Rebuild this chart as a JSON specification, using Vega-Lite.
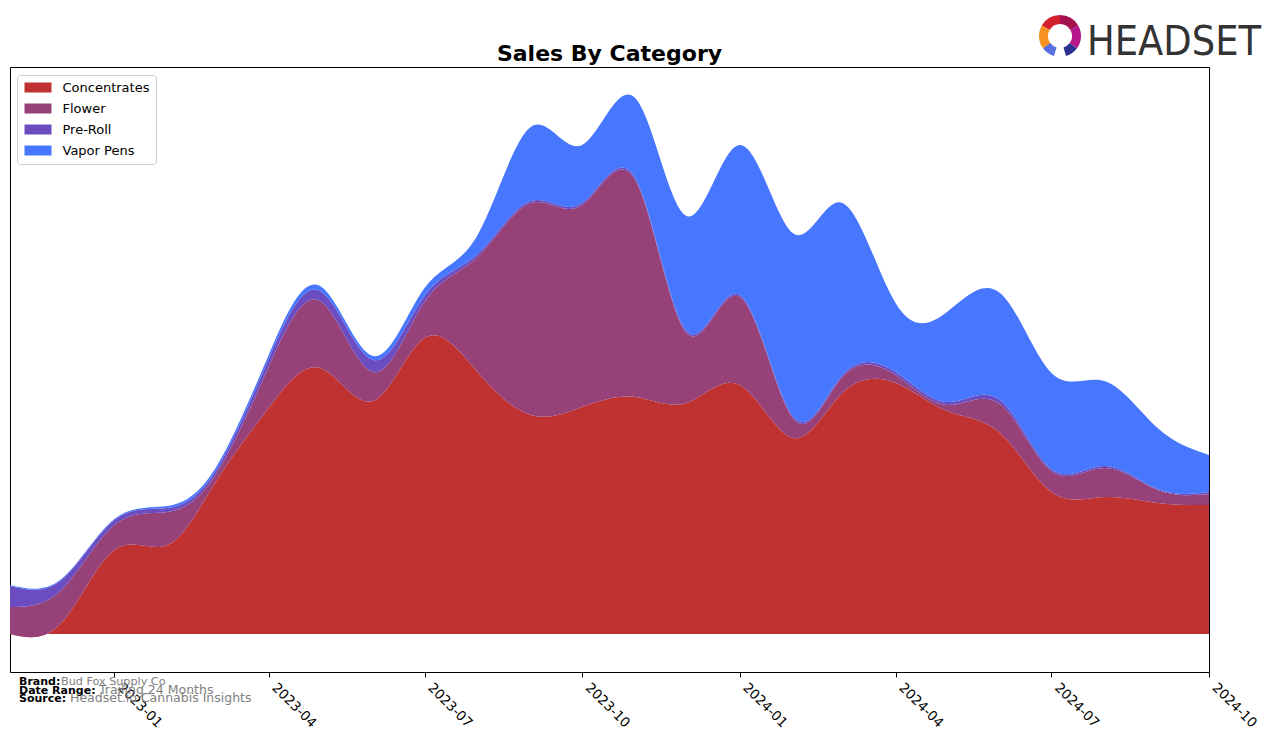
{
  "$schema": "https://vega.github.io/schema/vega-lite/v6.json",
  "autosize": "none",
  "width": 1199,
  "height": 605,
  "padding": {"left": 10, "top": 67, "right": 67, "bottom": 71},
  "background": "white",
  "title": {"text": "Sales By Category", "font": "DejaVu Sans", "fontSize": 22, "fontWeight": "bold", "color": "black", "anchor": "middle", "baseline": "alphabetic", "offset": 7, "dy": 75},
  "config": {
    "view": {"stroke": "black", "strokeWidth": 1},
    "axis": {"grid": false}
  },
  "layer": [
    {
      "data": {"values": [
        {"month": "2022-11-01", "category": "Concentrates", "sales": 0},
        {"month": "2022-11-01", "category": "Flower", "sales": 27},
        {"month": "2022-11-01", "category": "Pre-Roll", "sales": 21},
        {"month": "2022-11-01", "category": "Vapor Pens", "sales": 1},
        {"month": "2022-12-01", "category": "Concentrates", "sales": 11},
        {"month": "2022-12-01", "category": "Flower", "sales": 33},
        {"month": "2022-12-01", "category": "Pre-Roll", "sales": 10},
        {"month": "2022-12-01", "category": "Vapor Pens", "sales": 1},
        {"month": "2023-01-01", "category": "Concentrates", "sales": 84},
        {"month": "2023-01-01", "category": "Flower", "sales": 25},
        {"month": "2023-01-01", "category": "Pre-Roll", "sales": 5},
        {"month": "2023-01-01", "category": "Vapor Pens", "sales": 1},
        {"month": "2023-02-01", "category": "Concentrates", "sales": 89},
        {"month": "2023-02-01", "category": "Flower", "sales": 33},
        {"month": "2023-02-01", "category": "Pre-Roll", "sales": 4},
        {"month": "2023-02-01", "category": "Vapor Pens", "sales": 2},
        {"month": "2023-03-01", "category": "Concentrates", "sales": 152},
        {"month": "2023-03-01", "category": "Flower", "sales": 7},
        {"month": "2023-03-01", "category": "Pre-Roll", "sales": 4},
        {"month": "2023-03-01", "category": "Vapor Pens", "sales": 3},
        {"month": "2023-04-01", "category": "Concentrates", "sales": 226},
        {"month": "2023-04-01", "category": "Flower", "sales": 41},
        {"month": "2023-04-01", "category": "Pre-Roll", "sales": 8},
        {"month": "2023-04-01", "category": "Vapor Pens", "sales": 4},
        {"month": "2023-05-01", "category": "Concentrates", "sales": 266},
        {"month": "2023-05-01", "category": "Flower", "sales": 67},
        {"month": "2023-05-01", "category": "Pre-Roll", "sales": 10},
        {"month": "2023-05-01", "category": "Vapor Pens", "sales": 5},
        {"month": "2023-06-01", "category": "Concentrates", "sales": 233},
        {"month": "2023-06-01", "category": "Flower", "sales": 29},
        {"month": "2023-06-01", "category": "Pre-Roll", "sales": 12},
        {"month": "2023-06-01", "category": "Vapor Pens", "sales": 4},
        {"month": "2023-07-01", "category": "Concentrates", "sales": 296},
        {"month": "2023-07-01", "category": "Flower", "sales": 36},
        {"month": "2023-07-01", "category": "Pre-Roll", "sales": 6},
        {"month": "2023-07-01", "category": "Vapor Pens", "sales": 8},
        {"month": "2023-08-01", "category": "Concentrates", "sales": 262},
        {"month": "2023-08-01", "category": "Flower", "sales": 115},
        {"month": "2023-08-01", "category": "Pre-Roll", "sales": 3},
        {"month": "2023-08-01", "category": "Vapor Pens", "sales": 19},
        {"month": "2023-09-01", "category": "Concentrates", "sales": 219},
        {"month": "2023-09-01", "category": "Flower", "sales": 212},
        {"month": "2023-09-01", "category": "Pre-Roll", "sales": 2},
        {"month": "2023-09-01", "category": "Vapor Pens", "sales": 74},
        {"month": "2023-10-01", "category": "Concentrates", "sales": 227},
        {"month": "2023-10-01", "category": "Flower", "sales": 202},
        {"month": "2023-10-01", "category": "Pre-Roll", "sales": 2},
        {"month": "2023-10-01", "category": "Vapor Pens", "sales": 58},
        {"month": "2023-11-01", "category": "Concentrates", "sales": 237},
        {"month": "2023-11-01", "category": "Flower", "sales": 217},
        {"month": "2023-11-01", "category": "Pre-Roll", "sales": 2},
        {"month": "2023-11-01", "category": "Vapor Pens", "sales": 80},
        {"month": "2023-12-01", "category": "Concentrates", "sales": 231},
        {"month": "2023-12-01", "category": "Flower", "sales": 70},
        {"month": "2023-12-01", "category": "Pre-Roll", "sales": 2},
        {"month": "2023-12-01", "category": "Vapor Pens", "sales": 115},
        {"month": "2024-01-01", "category": "Concentrates", "sales": 249},
        {"month": "2024-01-01", "category": "Flower", "sales": 88},
        {"month": "2024-01-01", "category": "Pre-Roll", "sales": 2},
        {"month": "2024-01-01", "category": "Vapor Pens", "sales": 150},
        {"month": "2024-02-01", "category": "Concentrates", "sales": 196},
        {"month": "2024-02-01", "category": "Flower", "sales": 20},
        {"month": "2024-02-01", "category": "Pre-Roll", "sales": 2},
        {"month": "2024-02-01", "category": "Vapor Pens", "sales": 183},
        {"month": "2024-03-01", "category": "Concentrates", "sales": 241},
        {"month": "2024-03-01", "category": "Flower", "sales": 16},
        {"month": "2024-03-01", "category": "Pre-Roll", "sales": 2},
        {"month": "2024-03-01", "category": "Vapor Pens", "sales": 172},
        {"month": "2024-04-01", "category": "Concentrates", "sales": 251},
        {"month": "2024-04-01", "category": "Flower", "sales": 8},
        {"month": "2024-04-01", "category": "Pre-Roll", "sales": 3},
        {"month": "2024-04-01", "category": "Vapor Pens", "sales": 69},
        {"month": "2024-05-01", "category": "Concentrates", "sales": 223},
        {"month": "2024-05-01", "category": "Flower", "sales": 6},
        {"month": "2024-05-01", "category": "Pre-Roll", "sales": 3},
        {"month": "2024-05-01", "category": "Vapor Pens", "sales": 90},
        {"month": "2024-06-01", "category": "Concentrates", "sales": 201},
        {"month": "2024-06-01", "category": "Flower", "sales": 29},
        {"month": "2024-06-01", "category": "Pre-Roll", "sales": 4},
        {"month": "2024-06-01", "category": "Vapor Pens", "sales": 107},
        {"month": "2024-07-01", "category": "Concentrates", "sales": 142},
        {"month": "2024-07-01", "category": "Flower", "sales": 21},
        {"month": "2024-07-01", "category": "Pre-Roll", "sales": 2},
        {"month": "2024-07-01", "category": "Vapor Pens", "sales": 96},
        {"month": "2024-08-01", "category": "Concentrates", "sales": 137},
        {"month": "2024-08-01", "category": "Flower", "sales": 29},
        {"month": "2024-08-01", "category": "Pre-Roll", "sales": 2},
        {"month": "2024-08-01", "category": "Vapor Pens", "sales": 85},
        {"month": "2024-09-01", "category": "Concentrates", "sales": 131},
        {"month": "2024-09-01", "category": "Flower", "sales": 13},
        {"month": "2024-09-01", "category": "Pre-Roll", "sales": 1},
        {"month": "2024-09-01", "category": "Vapor Pens", "sales": 61},
        {"month": "2024-10-01", "category": "Concentrates", "sales": 129},
        {"month": "2024-10-01", "category": "Flower", "sales": 11},
        {"month": "2024-10-01", "category": "Pre-Roll", "sales": 2},
        {"month": "2024-10-01", "category": "Vapor Pens", "sales": 37}
      ]},
      "mark": {"type": "area", "interpolate": "natural", "opacity": 1},
      "encoding": {
        "x": {
          "field": "month", "type": "temporal",
          "scale": {"type": "utc", "domain": [{"year": 2022, "month": 11, "date": 1, "utc": true}, {"year": 2024, "month": 10, "date": 1, "utc": true}]},
          "axis": {
            "title": null, "domain": false, "grid": false,
            "values": [
              {"year": 2023, "month": 1, "date": 1, "utc": true},
              {"year": 2023, "month": 4, "date": 1, "utc": true},
              {"year": 2023, "month": 7, "date": 1, "utc": true},
              {"year": 2023, "month": 10, "date": 1, "utc": true},
              {"year": 2024, "month": 1, "date": 1, "utc": true},
              {"year": 2024, "month": 4, "date": 1, "utc": true},
              {"year": 2024, "month": 7, "date": 1, "utc": true},
              {"year": 2024, "month": 10, "date": 1, "utc": true}
            ],
            "format": "%Y-%m",
            "labelAngle": 45, "labelAlign": "left", "labelBaseline": "bottom",
            "labelFont": "DejaVu Sans", "labelFontSize": 13.5, "labelColor": "black",
            "labelPadding": 13, "labelOverlap": false, "labelBound": false, "labelFlush": false,
            "tickSize": 5, "tickColor": "black", "tickWidth": 1
          }
        },
        "y": {
          "field": "sales", "type": "quantitative", "stack": "zero",
          "scale": {"domain": [-38, 567], "nice": false, "zero": false},
          "axis": null
        },
        "order": {"field": "category", "sort": "ascending"},
        "color": {
          "field": "category", "type": "nominal",
          "scale": {"domain": ["Concentrates", "Flower", "Pre-Roll", "Vapor Pens"], "range": ["#C03232", "#964178", "#6B4DC1", "#4776FF"]},
          "legend": {
            "title": null, "orient": "none", "legendX": 7, "legendY": 8,
            "padding": 6, "fillColor": "white", "strokeColor": "#cccccc", "cornerRadius": 3,
            "labelFont": "DejaVu Sans", "labelFontSize": 13, "labelColor": "black", "labelLimit": 300,
            "symbolType": "M-2.7,-1L2.7,-1L2.7,1L-2.7,1Z", "symbolSize": 100, "symbolStrokeWidth": 0, "symbolOpacity": 1,
            "symbolOffset": 8.5, "labelOffset": 18, "rowPadding": 7
          }
        }
      }
    },
    {
      "data": {"values": [{}]},
      "mark": {"type": "text", "text": "Brand:", "font": "DejaVu Sans", "fontWeight": "bold", "fontSize": 11, "color": "black", "align": "left", "baseline": "alphabetic"},
      "encoding": {"x": {"value": 9}, "y": {"value": 618}}
    },
    {
      "data": {"values": [{}]},
      "mark": {"type": "text", "text": "Bud Fox Supply Co", "font": "DejaVu Sans", "fontSize": 11.2, "color": "#808080", "align": "left", "baseline": "alphabetic"},
      "encoding": {"x": {"value": 51}, "y": {"value": 618}}
    },
    {
      "data": {"values": [{}]},
      "mark": {"type": "text", "text": "Date Range:", "font": "DejaVu Sans", "fontWeight": "bold", "fontSize": 11, "color": "black", "align": "left", "baseline": "alphabetic"},
      "encoding": {"x": {"value": 9}, "y": {"value": 627}}
    },
    {
      "data": {"values": [{}]},
      "mark": {"type": "text", "text": "Trailing 24 Months", "font": "DejaVu Sans", "fontSize": 12.5, "color": "#808080", "align": "left", "baseline": "alphabetic"},
      "encoding": {"x": {"value": 89}, "y": {"value": 627}}
    },
    {
      "data": {"values": [{}]},
      "mark": {"type": "text", "text": "Source:", "font": "DejaVu Sans", "fontWeight": "bold", "fontSize": 11, "color": "black", "align": "left", "baseline": "alphabetic"},
      "encoding": {"x": {"value": 9}, "y": {"value": 635}}
    },
    {
      "data": {"values": [{}]},
      "mark": {"type": "text", "text": "Headset.io Cannabis Insights", "font": "DejaVu Sans", "fontSize": 12.5, "color": "#808080", "align": "left", "baseline": "alphabetic"},
      "encoding": {"x": {"value": 60}, "y": {"value": 635}}
    },
    {
      "data": {"values": [{}]},
      "mark": {"type": "text", "text": "HEADSET", "font": "Liberation Sans Narrow, DejaVu Sans Condensed, Liberation Sans", "fontSize": 41, "color": "#333333", "align": "right", "baseline": "alphabetic"},
      "encoding": {"x": {"value": 1251}, "y": {"value": -12}}
    },
    {
      "data": {"values": [{}]},
      "mark": {"type": "arc", "theta": -1.05, "theta2": 0, "radius": 21, "radius2": 12, "fill": "#D4202C"},
      "encoding": {"x": {"value": 1050}, "y": {"value": -31}}
    },
    {
      "data": {"values": [{}]},
      "mark": {"type": "arc", "theta": 0, "theta2": 1.05, "radius": 21, "radius2": 12, "fill": "#A3124E"},
      "encoding": {"x": {"value": 1050}, "y": {"value": -31}}
    },
    {
      "data": {"values": [{}]},
      "mark": {"type": "arc", "theta": 1.05, "theta2": 2.2, "radius": 21, "radius2": 12, "fill": "#B5168A"},
      "encoding": {"x": {"value": 1050}, "y": {"value": -31}}
    },
    {
      "data": {"values": [{}]},
      "mark": {"type": "arc", "theta": -2.2, "theta2": -1.05, "radius": 21, "radius2": 12, "fill": "#F7931E"},
      "encoding": {"x": {"value": 1050}, "y": {"value": -31}}
    },
    {
      "data": {"values": [{}]},
      "mark": {"type": "arc", "theta": 2.2, "theta2": 2.85, "radius": 21, "radius2": 12, "fill": "#2E3192"},
      "encoding": {"x": {"value": 1050}, "y": {"value": -31}}
    },
    {
      "data": {"values": [{}]},
      "mark": {"type": "arc", "theta": -2.85, "theta2": -2.2, "radius": 21, "radius2": 12, "fill": "#5B6EE1"},
      "encoding": {"x": {"value": 1050}, "y": {"value": -31}}
    }
  ]
}
